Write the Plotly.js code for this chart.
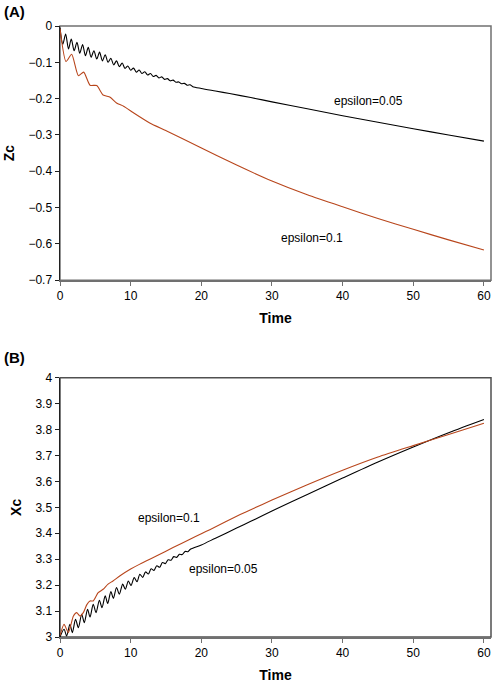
<!DOCTYPE html>
<html lang="en">
<head>
    <meta charset="UTF-8">
    <title>Zc and Xc vs Time</title>
    <script src="https://cdn.plot.ly/plotly-3.0.1.min.js"></script>
    <style>
        body { margin: 0; background: #fff; }
        #chart { width: 494px; height: 683px; }
    </style>
</head>
<body>
<div id="chart"></div>
<script>
    // Panel A: Zc, epsilon = 0.05 (black)
    var timeA05 = [0, 0.4, 0.8, 1.2, 1.6, 2.0, 2.4, 2.8, 3.2, 3.6, 4.0, 4.4, 4.8, 5.2, 5.6, 6.0, 6.4, 6.8,
        7.2, 7.6, 8.0, 8.4, 8.8, 9.2, 9.6, 10.0, 10.4, 10.8, 11.2, 11.6, 12.0, 12.4, 12.8, 13.2, 13.6, 14.0,
        14.4, 14.8, 15.2, 15.6, 16.0, 16.4, 16.8, 17.2, 17.6, 18.0, 18.4, 18.8,
        20, 22, 24, 27, 30, 35, 40, 45, 50, 55, 60];
    var zcA05 = [-0.005, -0.050, -0.022, -0.063, -0.036, -0.068, -0.045, -0.075, -0.051, -0.082, -0.059, -0.086,
        -0.068, -0.091, -0.072, -0.096, -0.079, -0.100, -0.089, -0.107, -0.096, -0.112, -0.102, -0.117, -0.110,
        -0.122, -0.116, -0.127, -0.121, -0.131, -0.126, -0.135, -0.131, -0.139, -0.136, -0.143, -0.140, -0.147,
        -0.145, -0.151, -0.149, -0.155, -0.154, -0.159, -0.158, -0.163, -0.162, -0.167,
        -0.172, -0.179, -0.186, -0.197, -0.209, -0.228, -0.247, -0.265, -0.283, -0.300, -0.317];

    // Panel A: Zc, epsilon = 0.1 (red)
    var timeA1 = [0, 0.85, 1.65, 2.6, 3.35, 4.25, 5.2, 6.1, 7.1, 8.0, 9.0, 10.4, 12.7, 15.1, 19.8, 25, 30,
        35, 40, 45, 50, 55, 60];
    var zcA1 = [-0.008, -0.098, -0.078, -0.137, -0.127, -0.163, -0.164, -0.190, -0.196, -0.212, -0.221, -0.239,
        -0.267, -0.289, -0.334, -0.383, -0.427, -0.465, -0.498, -0.530, -0.560, -0.589, -0.617];

    // Panel B: Xc, epsilon = 0.05 (black)
    var timeB05 = [0, 0.57, 0.94, 1.4, 1.75, 2.2, 2.6, 3.07, 3.44, 3.9, 4.25, 4.7, 5.1, 5.57, 5.94, 6.4, 6.75,
        7.2, 7.55, 8.0, 8.4, 8.87, 9.25, 9.67, 10.05, 10.5, 10.9, 11.3, 11.7, 12.1, 12.5, 12.9, 13.3, 13.7, 14.1,
        14.5, 14.9, 15.3, 15.7, 16.1, 16.5, 16.9, 17.3, 17.7, 18.1, 18.5,
        20, 22, 25, 27, 30, 35, 40, 45, 50, 55, 60];
    var xcB05 = [3.000, 3.030, 3.004, 3.049, 3.017, 3.068, 3.036, 3.088, 3.055, 3.107, 3.077, 3.126, 3.094,
        3.142, 3.113, 3.159, 3.129, 3.175, 3.149, 3.191, 3.165, 3.204, 3.184, 3.216, 3.199, 3.229, 3.213, 3.242,
        3.230, 3.251, 3.243, 3.263, 3.257, 3.275, 3.269, 3.287, 3.283, 3.298, 3.296, 3.310, 3.307, 3.319, 3.318,
        3.330, 3.329, 3.339,
        3.355, 3.381, 3.420, 3.446, 3.486, 3.550, 3.613, 3.675, 3.733, 3.788, 3.839];

    // Panel B: Xc, epsilon = 0.1 (red)
    var timeB1 = [0, 0.57, 1.18, 1.9, 2.36, 2.83, 3.3, 3.8, 4.25, 4.7, 5.4, 6.1, 6.8, 7.5, 8.5, 10.0, 11.3, 13.7,
        16.0, 18.4, 20.0, 21.2, 25.5, 27, 30, 35, 40, 45, 50, 55, 60];
    var xcB1 = [3.005, 3.049, 3.017, 3.081, 3.094, 3.081, 3.094, 3.125, 3.139, 3.139, 3.171, 3.184, 3.204,
        3.216, 3.236, 3.262, 3.281, 3.313, 3.345, 3.377, 3.398, 3.414, 3.472, 3.491, 3.528, 3.587, 3.643, 3.694,
        3.738, 3.781, 3.824];

    var xTicks = [0, 10, 20, 30, 40, 50, 60];
    var zcTicks = [0, -0.1, -0.2, -0.3, -0.4, -0.5, -0.6, -0.7];
    var xcTicks = [3, 3.1, 3.2, 3.3, 3.4, 3.5, 3.6, 3.7, 3.8, 3.9, 4];

    var black = '#000000';
    var red = '#b8461c';
    var font = 'Liberation Sans, Arial, sans-serif';

    var traces = [
        { x: timeA05, y: zcA05, xaxis: 'x', yaxis: 'y', mode: 'lines', name: 'epsilon=0.05',
          line: { color: black, width: 1.1, shape: 'spline', smoothing: 0.8 } },
        { x: timeA1, y: zcA1, xaxis: 'x', yaxis: 'y', mode: 'lines', name: 'epsilon=0.1',
          line: { color: red, width: 1.1, shape: 'spline', smoothing: 0.6 } },
        { x: timeB05, y: xcB05, xaxis: 'x2', yaxis: 'y2', mode: 'lines', name: 'epsilon=0.05',
          line: { color: black, width: 1.1, shape: 'spline', smoothing: 0.8 } },
        { x: timeB1, y: xcB1, xaxis: 'x2', yaxis: 'y2', mode: 'lines', name: 'epsilon=0.1',
          line: { color: red, width: 1.1, shape: 'spline', smoothing: 0.6 } }
    ];

    function xAxis(anchor) {
        return {
            anchor: anchor, domain: [0, 1], range: [0, 61], tickvals: xTicks,
            showgrid: false, zeroline: false, showline: true, linecolor: '#707070', linewidth: 1.5,
            ticks: 'outside', ticklen: 4, tickcolor: '#707070', tickfont: { size: 12, color: '#000' },
            title: { text: '<b>Time</b>', font: { size: 14, color: '#000' }, standoff: 11 }
        };
    }
    function yAxis(anchor, domain, range, ticks, label) {
        return {
            anchor: anchor, domain: domain, range: range, tickvals: ticks,
            showgrid: false, zeroline: false, showline: true, linecolor: '#202020', linewidth: 1.5,
            ticks: 'outside', ticklen: 4, tickcolor: '#202020', tickfont: { size: 12, color: '#000' },
            title: { text: '<b>' + label + '</b>', font: { size: 14, color: '#000' }, standoff: 10 }
        };
    }

    var layout = {
        width: 494, height: 683,
        margin: { l: 60, r: 3, t: 26, b: 46 },
        paper_bgcolor: '#fff', plot_bgcolor: '#fff',
        font: { family: font, color: '#000' },
        showlegend: false,
        xaxis: xAxis('y'),
        yaxis: yAxis('x', [0.584, 1], [-0.7, 0], zcTicks, 'Zc'),
        xaxis2: xAxis('y2'),
        yaxis2: yAxis('x2', [0, 0.4244], [3, 4], xcTicks, 'Xc'),
        shapes: [
            { type: 'rect', xref: 'x domain', yref: 'y domain', x0: 0, x1: 1, y0: 0, y1: 1,
              line: { color: '#707070', width: 1.5 }, layer: 'below' },
            { type: 'rect', xref: 'x2 domain', yref: 'y2 domain', x0: 0, x1: 1, y0: 0, y1: 1,
              line: { color: '#505050', width: 1.5 }, layer: 'below' }
        ],
        annotations: [
            { text: '<b>(A)</b>', xref: 'paper', yref: 'paper', x: -0.135, y: 1.023, xanchor: 'left',
              yanchor: 'middle', showarrow: false, font: { size: 15 } },
            { text: '<b>(B)</b>', xref: 'paper', yref: 'paper', x: -0.135, y: 0.458, xanchor: 'left',
              yanchor: 'middle', showarrow: false, font: { size: 15 } },
            { text: 'epsilon=0.05', xref: 'x', yref: 'y', x: 43.6, y: -0.207, showarrow: false, font: { size: 12 } },
            { text: 'epsilon=0.1', xref: 'x', yref: 'y', x: 35.7, y: -0.584, showarrow: false, font: { size: 12 } },
            { text: 'epsilon=0.1', xref: 'x2', yref: 'y2', x: 15.4, y: 3.458, showarrow: false, font: { size: 12 } },
            { text: 'epsilon=0.05', xref: 'x2', yref: 'y2', x: 23.2, y: 3.264, showarrow: false, font: { size: 12 } }
        ]
    };

    Plotly.newPlot('chart', traces, layout, { staticPlot: true, displayModeBar: false });
</script>
</body>
</html>
